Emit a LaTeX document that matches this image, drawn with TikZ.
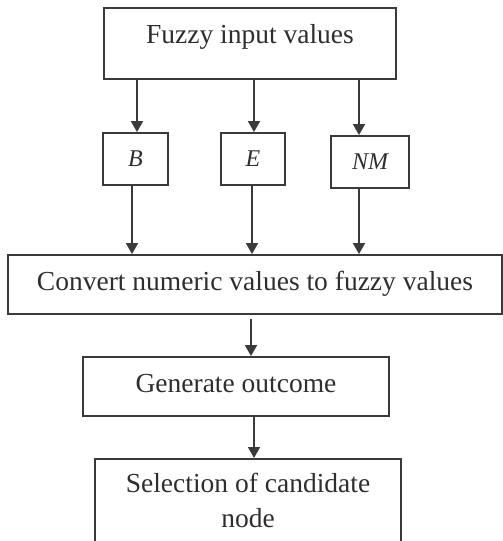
\documentclass[tikz,border=0pt]{standalone}
\usepackage{fontspec}
\setmainfont{Liberation Serif}
\usetikzlibrary{arrows.meta}
\definecolor{ink}{HTML}{2E2E2E}
\definecolor{edge}{HTML}{3A3A3A}
\tikzset{
  box/.style={draw=edge, line width=1.8pt, inner sep=0pt, text=ink,
              font=\fontsize{27.5}{35}\selectfont, align=center},
  varbox/.style={box, font=\fontsize{24}{28}\selectfont\itshape},
  boxtext/.style={inner sep=0pt, text=ink, font=\fontsize{27.5}{35}\selectfont, align=center},
  arr/.style={draw=edge, line width=1.8pt,
              -{Triangle[width=12pt,length=11pt]}},
}
\begin{document}
\begin{tikzpicture}[x=1pt,y=-1pt]
  \useasboundingbox (0,0) rectangle (503,541);
  \clip (0,0) rectangle (503,541);

  % input stage
  \node[box, minimum width=292pt, text height=35pt, text depth=36pt] (fuzzy) at (250,43.5) {Fuzzy input values};

  % fuzzy variables
  \node[varbox, minimum width=65pt, minimum height=52pt] (B)  at (135.5,159) {B};
  \node[varbox, minimum width=64pt, minimum height=52pt] (E)  at (253,159)   {E};
  \node[varbox, minimum width=78pt, minimum height=52pt] (NM) at (370,162)   {NM};

  % processing chain
  \node[box, minimum width=494pt, text height=35pt, text depth=24pt] (conv) at (255,284.5) {Convert numeric values to fuzzy values};
  \node[box, minimum width=306pt, text height=35pt, text depth=24pt] (gen)  at (236,386.5) {Generate outcome};
  \node[box, anchor=north, minimum width=306pt, minimum height=120pt] (sel) at (248,458) {};
  \node[boxtext, anchor=north] (seltext) at (248,473) {Selection of candidate\\node};

  % input to variables
  \draw[arr] ([xshift=1.5pt]B.north |- fuzzy.south) -- ([xshift=1.5pt]B.north);
  \draw[arr] ([xshift=1pt]E.north |- fuzzy.south) -- ([xshift=1pt]E.north);
  \draw[arr] ([xshift=-11pt]NM.north |- fuzzy.south) -- ([xshift=-11pt]NM.north);

  % variables to conversion
  \draw[arr] ([xshift=-3.5pt]B.south) -- ([xshift=-3.5pt]B.south |- conv.north);
  \draw[arr] ([xshift=-1pt]E.south) -- ([xshift=-1pt]E.south |- conv.north);
  \draw[arr] ([xshift=-11pt]NM.south) -- ([xshift=-11pt]NM.south |- conv.north);

  % down the chain
  \draw[arr] ([xshift=-4pt,yshift=-4pt]conv.south) -- ([xshift=-4pt]conv.south |- gen.north);
  \draw[arr] ([xshift=18pt]gen.south) -- ([xshift=18pt]gen.south |- sel.north);
\end{tikzpicture}
\end{document}
